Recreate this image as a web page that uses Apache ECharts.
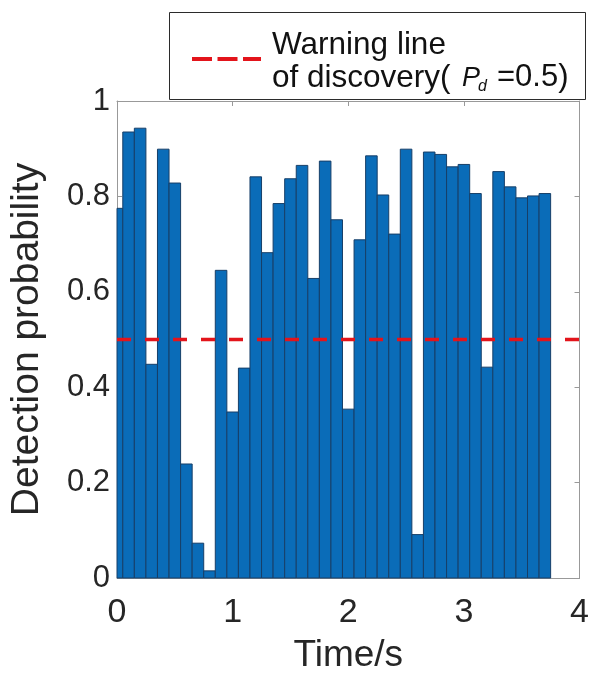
<!DOCTYPE html>
<html>
<head>
<meta charset="utf-8">
<script src="https://cdn.jsdelivr.net/npm/echarts@6/dist/echarts.min.js"></script>
<style>
  html, body { margin: 0; padding: 0; background: #fff; }
  #chart { width: 592px; height: 679px; }
</style>
</head>
<body>
<div id="chart"></div>
<script>
// Detection probability sampled every 0.1 s
const times = [0.0, 0.1, 0.2, 0.3, 0.4, 0.5, 0.6, 0.7, 0.8, 0.9,
               1.0, 1.1, 1.2, 1.3, 1.4, 1.5, 1.6, 1.7, 1.8, 1.9,
               2.0, 2.1, 2.2, 2.3, 2.4, 2.5, 2.6, 2.7, 2.8, 2.9,
               3.0, 3.1, 3.2, 3.3, 3.4, 3.5, 3.6, 3.7];
const probability = [0.775, 0.935, 0.943, 0.448, 0.899, 0.828, 0.239, 0.073, 0.015, 0.645,
                     0.348, 0.440, 0.841, 0.682, 0.785, 0.837, 0.865, 0.628, 0.874, 0.751,
                     0.354, 0.709, 0.885, 0.803, 0.721, 0.899, 0.091, 0.893, 0.888, 0.862,
                     0.867, 0.806, 0.442, 0.852, 0.820, 0.797, 0.801, 0.806];
const binWidth = 0.1;
const warningLevel = 0.5;
const xTicks = [0, 1, 2, 3, 4];
const yTicks = [0, 0.2, 0.4, 0.6, 0.8, 1];

const barData = times.map((t, i) => [t, probability[i]]);
const FONT = 'Liberation Sans, Arial, sans-serif';
const AXIS_GRAY = '#999999';

const chart = echarts.init(document.getElementById('chart'), null, { renderer: 'canvas' });

function renderBin(params, api) {
  const t = api.value(0);
  const v = api.value(1);
  const p0 = api.coord([t - binWidth / 2, v]);
  const p1 = api.coord([t + binWidth / 2, 0]);
  const rect = echarts.graphic.clipRectByRect(
    { x: p0[0], y: p0[1], width: p1[0] - p0[0], height: p1[1] - p0[1] },
    { x: params.coordSys.x, y: params.coordSys.y, width: params.coordSys.width, height: params.coordSys.height }
  );
  if (!rect) return null;
  return {
    type: 'rect',
    shape: rect,
    style: { fill: '#0a6cb8', stroke: '#173f68', lineWidth: 1 }
  };
}

const commonX = {
  type: 'value', min: 0, max: 4, interval: 1,
  axisLine: { show: true, onZero: false, lineStyle: { color: AXIS_GRAY, width: 1 } },
  axisTick: { show: true, inside: true, length: 5, lineStyle: { color: AXIS_GRAY } },
  splitLine: { show: false }
};
const commonY = {
  type: 'value', min: 0, max: 1, interval: 0.2,
  axisLine: { show: true, onZero: false, lineStyle: { color: AXIS_GRAY, width: 1 } },
  axisTick: { show: true, inside: true, length: 5, lineStyle: { color: AXIS_GRAY } },
  splitLine: { show: false }
};

chart.setOption({
  animation: false,
  backgroundColor: '#ffffff',
  grid: { left: 117, right: 6, top: 101, bottom: 100, containLabel: false },
  xAxis: [
    Object.assign({}, commonX, {
      position: 'bottom',
      name: 'Time/s',
      nameLocation: 'middle',
      nameGap: 59,
      nameTextStyle: { fontFamily: FONT, fontSize: 37, color: '#262626' },
      axisLabel: {
        fontFamily: FONT, fontSize: 34, color: '#262626', margin: 18,
        formatter: v => (xTicks.includes(v) ? String(v) : '')
      }
    }),
    Object.assign({}, commonX, { position: 'top', axisLabel: { show: false } })
  ],
  yAxis: [
    Object.assign({}, commonY, {
      position: 'left',
      name: 'Detection probability',
      nameLocation: 'middle',
      nameGap: 70,
      nameTextStyle: { fontFamily: FONT, fontSize: 39, color: '#262626' },
      axisLabel: {
        fontFamily: FONT, fontSize: 31, color: '#262626', margin: 7,
        formatter: v => {
          const k = yTicks.find(t => Math.abs(t - v) < 1e-9);
          return k === undefined ? '' : String(+k.toFixed(1));
        }
      }
    }),
    Object.assign({}, commonY, { position: 'right', axisLabel: { show: false } })
  ],
  series: [
    {
      name: 'Detection probability',
      type: 'custom',
      renderItem: renderBin,
      data: barData,
      encode: { x: 0, y: 1 },
      z: 2
    },
    {
      name: 'Warning line of discovery',
      type: 'line',
      data: [[0, warningLevel], [4, warningLevel]],
      symbol: 'none',
      lineStyle: { color: '#e3141b', width: 3.5, type: [14, 14] },
      z: 3
    }
  ],
  graphic: [
    {
      type: 'group',
      z: 10,
      children: [
        { type: 'rect', shape: { x: 169.5, y: 12.5, width: 416, height: 87 },
          style: { fill: '#ffffff', stroke: '#2b2b2b', lineWidth: 1 } },
        { type: 'line', shape: { x1: 192, y1: 59, x2: 261, y2: 59 },
          style: { stroke: '#e3141b', lineWidth: 4, lineDash: [20, 5.5] } },
        { type: 'text', x: 272, y: 45,
          style: { text: 'Warning line', fontFamily: FONT, fontSize: 31.5, fill: '#111', verticalAlign: 'middle' } },
        { type: 'text', x: 272, y: 78,
          style: { text: 'of discovery(', fontFamily: FONT, fontSize: 31.5, fill: '#111', verticalAlign: 'middle' } },
        { type: 'text', x: 462, y: 78,
          style: { text: 'P', fontFamily: FONT, fontStyle: 'italic', fontSize: 27, fill: '#111', verticalAlign: 'middle' } },
        { type: 'text', x: 478, y: 87,
          style: { text: 'd', fontFamily: FONT, fontStyle: 'italic', fontSize: 16, fill: '#111', verticalAlign: 'middle' } },
        { type: 'text', x: 497, y: 77,
          style: { text: '=0.5)', fontFamily: FONT, fontSize: 31, fill: '#111', verticalAlign: 'middle' } }
      ]
    }
  ]
});
</script>
</body>
</html>
